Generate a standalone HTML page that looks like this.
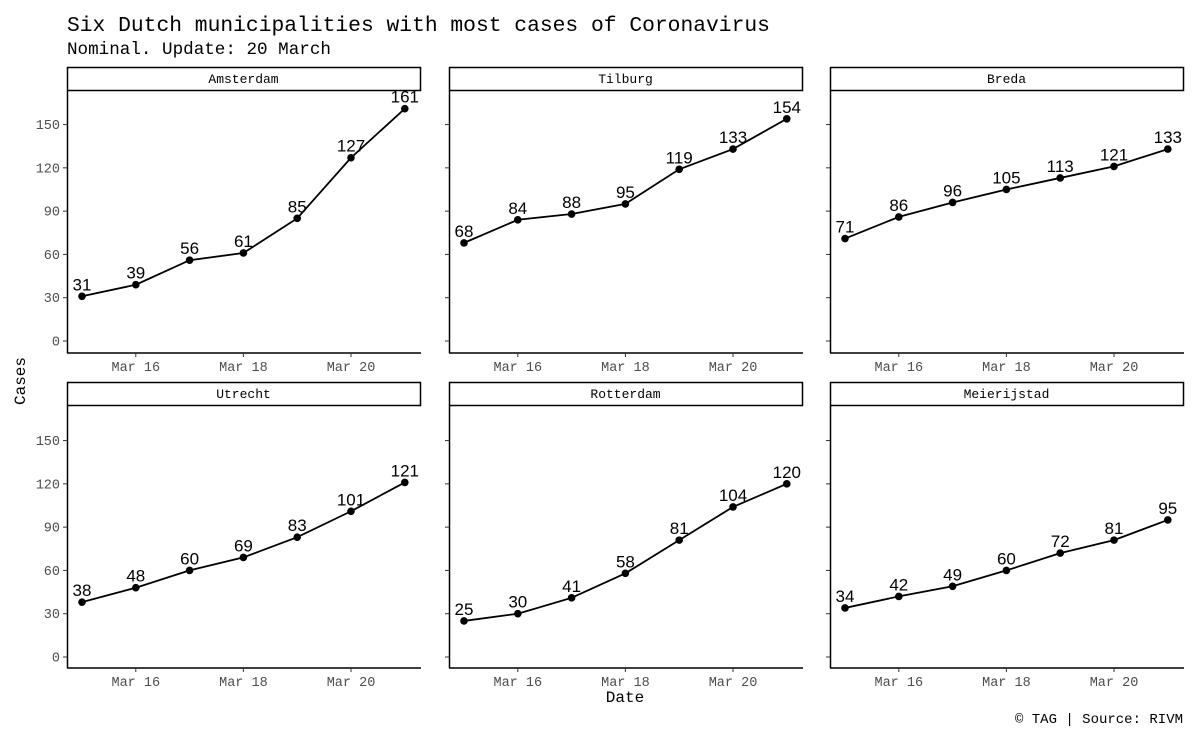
<!DOCTYPE html>
<html><head><meta charset="utf-8"><style>
body{margin:0;background:#fff;}
svg text{font-family:"Liberation Mono",monospace;}
</style></head><body>
<svg id="chart" width="1200" height="742" xmlns="http://www.w3.org/2000/svg">
<text x="67" y="31" font-size="21.3" fill="#000">Six Dutch municipalities with most cases of Coronavirus</text>
<text x="67" y="54" font-size="17.6" fill="#000">Nominal. Update: 20 March</text>
<text transform="translate(25,381) rotate(-90)" text-anchor="middle" font-size="16">Cases</text>
<text x="625" y="702" text-anchor="middle" font-size="16">Date</text>
<text x="1183" y="723" text-anchor="end" font-size="14">© TAG | Source: RIVM</text>
<g id="panels"></g>
</svg>
<script>
const cities = ["Amsterdam","Tilburg","Breda","Utrecht","Rotterdam","Meierijstad"];
const days = [15,16,17,18,19,20,21];
const amsterdam = [31,39,56,61,85,127,161];
const tilburg = [68,84,88,95,119,133,154];
const breda = [71,86,96,105,113,121,133];
const utrecht = [38,48,60,69,83,101,121];
const rotterdam = [25,30,41,58,81,104,120];
const meierijstad = [34,42,49,60,72,81,95];
const yTicks = [0,30,60,90,120,150];
const xTicks = [16,18,20];
const xTickLabels = ["Mar 16","Mar 18","Mar 20"];

const series = [amsterdam,tilburg,breda,utrecht,rotterdam,meierijstad];
const NS = "http://www.w3.org/2000/svg";
const root = document.getElementById("panels");
function mk(tag, attrs, parent){const e=document.createElementNS(NS,tag);for(const k in attrs)e.setAttribute(k,attrs[k]);parent.appendChild(e);return e;}
const colX = [67,449,830], W = 353;
const rowTop = [67,382];
series.forEach((vals,i)=>{
  const c=i%3, r=Math.floor(i/3);
  const x0=colX[c], st=rowTop[r], pt=st+24, pb=pt+262;
  const zeroY = r===0?341:657;
  const y = v => zeroY - v*1.443;
  const x = d => x0+15 + (d-15)*53.8;
  const g = mk("g",{},root);
  
  
  const strip = mk("rect",{x:x0+0.5,y:st+0.5,width:W,height:23,fill:"#fff",stroke:"#000","stroke-width":1.5},g);
  
  
  const sl = mk("text",{x:x0+W/2,y:st+16,"text-anchor":"middle","font-size":13},g);
  
  
  sl.textContent=cities[i];
  mk("line",{x1:x0+0.5,y1:pt,x2:x0+0.5,y2:pb,stroke:"#000","stroke-width":1.5},g);
  mk("line",{x1:x0,y1:pb,x2:x0+W+1,y2:pb,stroke:"#000","stroke-width":1.5},g);
  yTicks.forEach(t=>{
    mk("line",{x1:x0-4,y1:y(t),x2:x0,y2:y(t),stroke:"#333"},g);
    if(c===0){const tl=mk("text",{x:x0-7,y:y(t)+4.5,"text-anchor":"end","font-size":13.5,fill:"#4d4d4d"},g);
      
      
      tl.textContent=t;}
  });
  xTicks.forEach((t,k)=>{
    mk("line",{x1:x(t),y1:pb,x2:x(t),y2:pb+4,stroke:"#333"},g);
    const tl=mk("text",{x:x(t),y:pb+18,"text-anchor":"middle","font-size":13.5,fill:"#4d4d4d"},g);
    
    
    tl.textContent=xTickLabels[k];
  });
  const line = mk("polyline",{points:vals.map((v,k)=>x(days[k])+","+y(v)).join(" "),fill:"none",stroke:"#000","stroke-width":1.8},g);
  
  
  vals.forEach((v,k)=>{
    const p=mk("circle",{cx:x(days[k]),cy:y(v),r:3.8,fill:"#000"},g);
    
    
    const lb=mk("text",{x:x(days[k]),y:y(v)-6,"text-anchor":"middle","font-size":17,style:"font-family:'Liberation Sans',sans-serif"},g);
    
    
    lb.textContent=v;
  });
});
</script>
</body></html>
